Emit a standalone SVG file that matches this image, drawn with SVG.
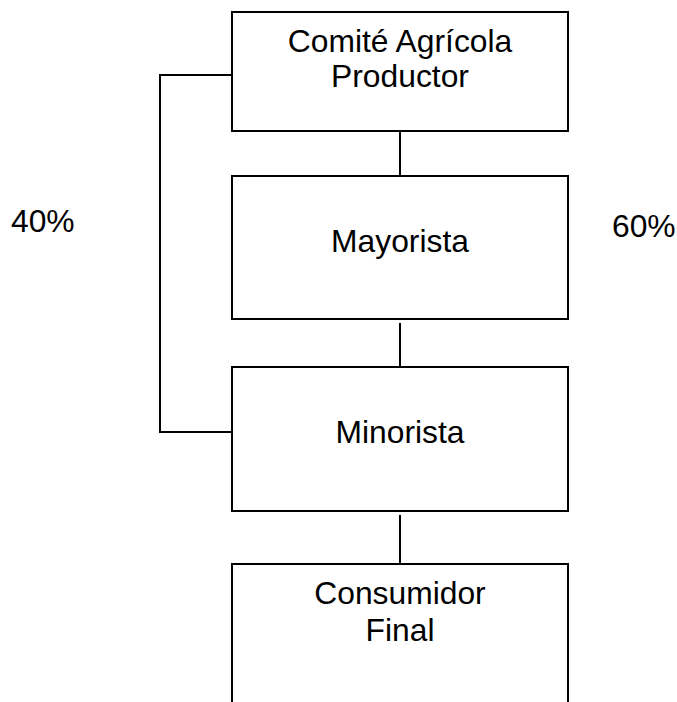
<svg xmlns="http://www.w3.org/2000/svg" width="677" height="702" viewBox="0 0 677 702">
<style>
.box{fill:#fff;stroke:#000;stroke-width:2}
.ln{fill:none;stroke:#000;stroke-width:2}
text{font-family:"Liberation Sans",Arial,sans-serif;font-size:31.8px;fill:#000}
.c{text-anchor:middle}
</style>
<rect width="677" height="702" fill="#fff"/>
<g id="connectors">
<path class="ln" d="M400 131V180"/>
<path class="ln" d="M400 323V372"/>
<path class="ln" d="M400 515V563"/>
<path class="ln" d="M232 75H160V432H232"/>
</g>
<g id="n1"><rect class="box" x="232" y="12" width="336" height="119"/>
<text class="c" x="400" y="52">Comité Agrícola</text><text class="c" x="400" y="87">Productor</text></g>
<g id="n2"><rect class="box" x="232" y="176" width="336" height="143"/>
<text class="c" x="400" y="252">Mayorista</text></g>
<g id="n3"><rect class="box" x="232" y="367" width="336" height="144"/>
<text class="c" x="400" y="443">Minorista</text></g>
<g id="n4"><path class="ln" d="M232 704V564H568V704"/>
<text class="c" x="400" y="604">Consumidor</text><text class="c" x="400" y="641">Final</text></g>
<text x="11" y="232">40%</text>
<text x="612" y="237">60%</text>
</svg>
